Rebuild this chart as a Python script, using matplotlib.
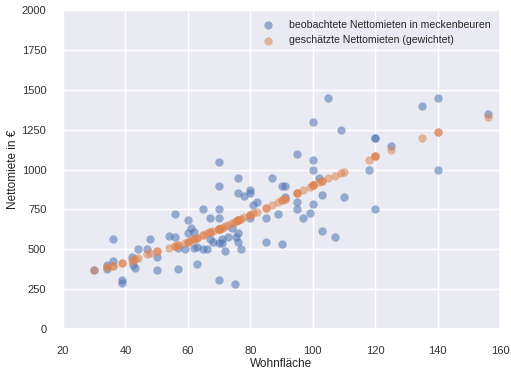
import matplotlib
matplotlib.use("Agg")
import matplotlib.pyplot as plt
import seaborn as sns

wohnflaeche = [30, 34, 34, 36, 36, 39, 39, 42, 42.5, 43, 44, 47, 48, 50, 50,
               54, 56, 56, 57, 57, 59, 60, 60, 61, 62, 62, 63, 63, 65, 65,
               66, 67, 67, 68, 70, 70, 70, 70, 70, 71, 71, 70, 72, 73, 74,
               75, 75.5, 76, 76, 76, 76, 77, 78, 80, 80, 80, 81, 82, 85, 85,
               87, 89, 90, 91, 90, 91, 95, 95, 95, 97, 99, 100, 100, 100, 100,
               102, 103, 103, 105, 107, 109, 110, 118, 120, 120, 120, 125, 135, 140, 140,
               156]
beobachtet = [371, 403, 375, 562, 429, 308, 291, 450, 402, 385, 500, 500, 566, 454, 371,
              583, 577, 719, 375, 506, 500, 683, 600, 631, 610, 506, 406, 516, 750, 500,
              500, 694, 562, 548, 1044, 898, 750, 694, 537, 537, 566, 308, 487, 579, 635,
              283, 579, 944, 850, 600, 548, 500, 835, 871, 850, 694, 777, 798, 694, 548,
              946, 719, 898, 898, 531, 829, 1100, 798, 750, 694, 725, 781, 1296, 1058, 996,
              948, 837, 616, 1450, 579, 1246, 829, 996, 1200, 1200, 750, 1150, 1400, 1450, 996,
              1346]
geschaetzt = [372, 388, 388, 398, 398, 412, 412, 428, 433, 437, 445, 468, 474, 488, 488,
              505, 518, 518, 525, 525, 540, 548, 548, 556, 565, 565, 572, 572, 592, 592,
              600, 607, 607, 614, 628, 628, 628, 628, 628, 636, 636, 628, 645, 655, 664,
              672, 676, 681, 681, 681, 681, 690, 700, 717, 717, 717, 725, 732, 757, 757,
              775, 795, 808, 815, 808, 815, 855, 855, 855, 873, 893, 903, 903, 903, 903,
              920, 930, 930, 946, 962, 978, 986, 1062, 1083, 1083, 1083, 1125, 1200, 1236, 1236,
              1330]

sns.set_theme(style="darkgrid")
plt.rcParams['font.family'] = ['Liberation Sans', 'DejaVu Sans']

fig = plt.figure(figsize=(5.11, 3.71), dpi=100)
ax = fig.add_axes([63/511, 1 - 329/371, 437/511, 319/371])

ax.scatter(wohnflaeche, beobachtet, s=36, alpha=0.55, color="#4C72B0", linewidths=0,
           label="beobachtete Nettomieten in meckenbeuren")
ax.scatter(wohnflaeche, geschaetzt, s=36, alpha=0.55, color="#DD8452", linewidths=0,
           label="geschätzte Nettomieten (gewichtet)")

ax.set_xlim(20, 160)
ax.set_ylim(0, 2000)
ax.set_xticks(range(20, 161, 20))
ax.set_yticks(range(0, 2001, 250))
ax.tick_params(labelsize=8, colors="#333333", pad=6)
ax.set_xlabel("Wohnfläche", fontsize=8.5, color="#222222", labelpad=2)
ax.set_ylabel("Nettomiete in €", fontsize=8.5, color="#222222", labelpad=2)
ax.legend(loc="upper right", fontsize=7.6, frameon=False, handletextpad=1.0,
          borderaxespad=0.5, labelspacing=0.55)

fig.savefig("out.png", dpi=100)
